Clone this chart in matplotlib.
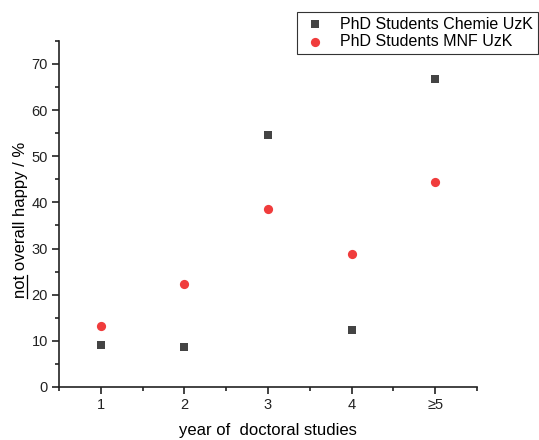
import numpy as np
import matplotlib.pyplot as plt
from matplotlib.ticker import MultipleLocator
from matplotlib.lines import Line2D

plt.rcParams['font.family'] = ['Liberation Sans', 'DejaVu Sans']

# data
years = [1, 2, 3, 4, 5]
year_labels = ['1', '2', '3', '4', '≥5']
chemie = [9.1, 8.7, 54.6, 12.4, 66.7]
mnf = [13.3, 22.4, 38.5, 28.8, 44.5]

fig = plt.figure(figsize=(5.39, 4.4), dpi=100)
ax = fig.add_axes([0.1095, 0.1205, 0.7755, 0.7865])

ax.scatter(years, chemie, marker='s', s=36, color='#444444', lw=0,
           label='PhD Students Chemie UzK', zorder=3)
ax.scatter(years, mnf, marker='o', s=44, color='#f03c3c', lw=0,
           label='PhD Students MNF UzK', zorder=3)

ax.set_xlim(0.5, 5.5)
ax.set_ylim(0, 75)
ax.set_xticks(years)
ax.set_xticklabels(year_labels)
ax.xaxis.set_minor_locator(MultipleLocator(0.5))
ax.yaxis.set_major_locator(MultipleLocator(10))
ax.yaxis.set_minor_locator(MultipleLocator(5))

for s in ['top', 'right']:
    ax.spines[s].set_visible(False)
for s in ['left', 'bottom']:
    ax.spines[s].set_linewidth(1.2)
    ax.spines[s].set_color('#222222')

ax.tick_params(which='major', direction='out', length=5, width=1.2,
               labelsize=10.5, colors='#222222', pad=3)
ax.tick_params(which='minor', direction='out', length=3, width=1.2,
               colors='#222222')

ax.set_xlabel('year of  doctoral studies', fontsize=12)
ax.xaxis.set_label_coords(0.5, -0.105)
ylab = ax.set_ylabel('not overall happy / %', fontsize=12)
ax.yaxis.set_label_coords(-0.074, 0.483)

leg = ax.legend(loc='upper left', bbox_to_anchor=(0.551, 0.973),
                bbox_transform=fig.transFigure, fontsize=11.5, fancybox=False,
                edgecolor='#333333', framealpha=1, borderpad=0.3,
                handletextpad=0.8, labelspacing=0.15, borderaxespad=0,
                handlelength=1.6)
leg.get_frame().set_linewidth(0.8)

# underline "not" in the y label
fig.canvas.draw()
r = fig.canvas.get_renderer()
bb = ylab.get_window_extent(r)
tmp = fig.text(0, 0, 'not', fontsize=12)
w = tmp.get_window_extent(r).width
tmp.remove()
W, H = fig.bbox.width, fig.bbox.height
ux = (bb.x1 - 1.5) / W
fig.add_artist(Line2D([ux, ux], [bb.y0 / H, (bb.y0 + w) / H],
                      transform=fig.transFigure, color='black', lw=0.9))

fig.savefig('out.png', dpi=100)
